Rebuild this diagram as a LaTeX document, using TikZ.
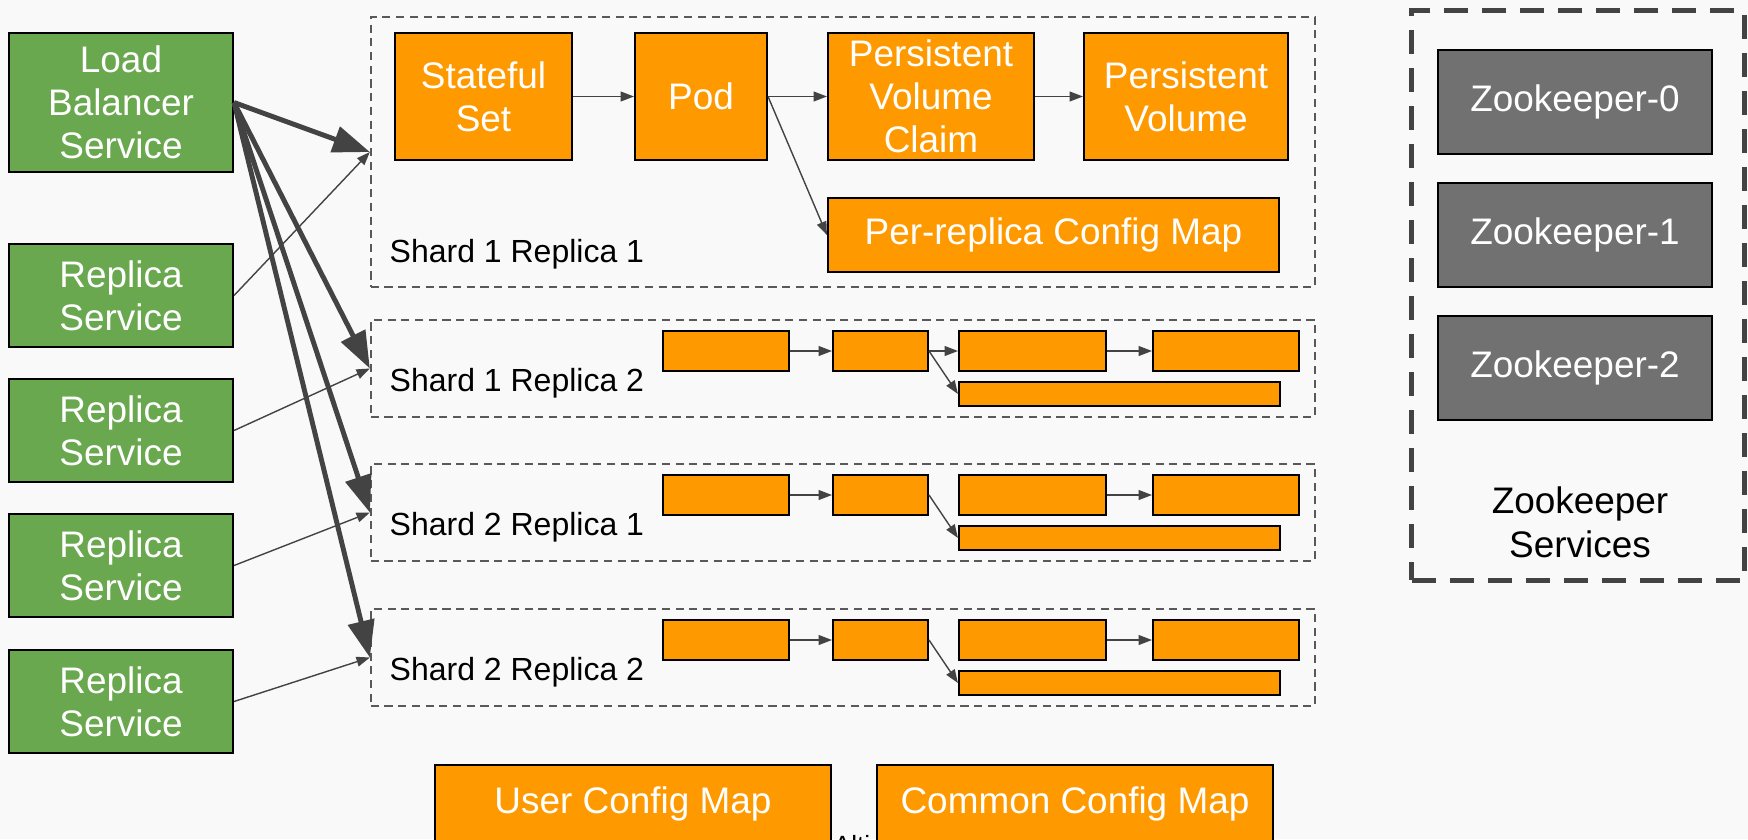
\documentclass[tikz,border=0pt]{standalone}
\usepackage{fontspec}
\setmainfont{Liberation Sans}
\usetikzlibrary{arrows.meta, positioning}
\definecolor{KGreen}{HTML}{6AA84F}
\definecolor{KOrange}{HTML}{FF9900}
\definecolor{KGrey}{HTML}{717171}
\definecolor{KArrow}{HTML}{434343}
\definecolor{KDash}{HTML}{595959}
\definecolor{KBack}{HTML}{F9F9F9}

\begin{document}
\begin{tikzpicture}[x=0.01cm, y=-0.01cm,
    box/.style={draw=black, line width=0.55pt, inner sep=0pt, align=center,
                text=white, font=\fontsize{10.5}{12.3}\selectfont},
    svc/.style={box, fill=KGreen, minimum width=2.24cm},
    res/.style={box, fill=KOrange},
    zk/.style={box, fill=KGrey, minimum width=2.74cm, minimum height=1.04cm},
    shard/.style={draw=KDash, line width=0.5pt, dash pattern=on 2.3pt off 1.6pt,
                  minimum width=9.44cm, inner sep=0pt},
    lbl/.style={anchor=base west, inner sep=0pt, font=\fontsize{9.1}{11}\selectfont},
    lbarrow/.style={-{Triangle[length=10.5pt, width=7.5pt]}, line width=1.4pt, KArrow},
    link/.style={-{Triangle[length=3.8pt, width=2.8pt]}, line width=0.4pt, KArrow}]
  % Background
  \fill[KBack] (0,0) rectangle (1748,839);
  \useasboundingbox (0,0) rectangle (1748,839);

  % Services
  \node[svc, minimum height=1.39cm] (lb) at (121,102.5) {Load\\Balancer\\Service};
  \foreach \i/\y in {1/295.5, 2/430.5, 3/565.5, 4/701.5}
    \node[svc, minimum height=1.03cm] (rs\i) at (121,\y) {Replica\\Service};

  % Shard 1 Replica 1
  \node[shard, minimum height=2.7cm] (s11) at (843,152) {};
  \node[lbl] at (389,262) {Shard 1 Replica 1};
  \node[res, minimum width=1.77cm, minimum height=1.27cm] (sts) at (483.5,96.5) {Stateful\\Set};
  \node[res, minimum width=1.32cm, minimum height=1.27cm] (pod) at (701,96.5) {Pod};
  \node[res, minimum width=2.06cm, minimum height=1.27cm] (pvc) at (931,96.5) {Persistent\\Volume\\Claim};
  \node[res, minimum width=2.04cm, minimum height=1.27cm] (pv) at (1186,96.5) {Persistent\\Volume};
  \node[res, minimum width=4.51cm, minimum height=0.74cm] (prc) at (1053.5,235) {Per-replica Config Map};
  \draw[link] (sts) -- (pod);
  \draw[link] (pod) -- (pvc);
  \draw[link] (pvc) -- (pv);
  \draw[link] (pod.east) -- (prc.west);

  % Other replicas, collapsed
  \foreach \n/\t/\txt in {s12/320/Shard 1 Replica 2, s21/464/Shard 2 Replica 1,
                          s22/609/Shard 2 Replica 2} {
    \node[shard, minimum height=0.97cm] (\n) at (843,\t+48.5) {};
    \node[lbl] at (389,\t+71) {\txt};
    \node[res, minimum width=1.26cm, minimum height=0.4cm] (\n-a) at (726,\t+31) {};
    \node[res, minimum width=0.95cm, minimum height=0.4cm] (\n-b) at (880.5,\t+31) {};
    \node[res, minimum width=1.47cm, minimum height=0.4cm] (\n-c) at (1032.5,\t+31) {};
    \node[res, minimum width=1.46cm, minimum height=0.4cm] (\n-d) at (1226,\t+31) {};
    \node[res, minimum width=3.21cm, minimum height=0.24cm] (\n-e) at (1119.5,\t+74) {};
    \draw[link] (\n-a) -- (\n-b);
    \draw[link] (\n-c) -- (\n-d);
    \draw[link] (\n-b.east) -- (\n-e.west);
  }
  \draw[link] (s12-b) -- (s12-c);

  % Service connections
  \draw[link] (rs1.east) -- (s11.west);
  \draw[link] (rs2.east) -- (s12.west);
  \draw[link] (rs3.east) -- (s21.west);
  \draw[link] (rs4.east) -- (s22.west);
  \foreach \s in {s11, s12, s21, s22}
    \draw[lbarrow] (lb.east) -- (\s.west);

  % Zookeeper
  \node[draw=KArrow, line width=1.4pt, dash pattern=on 6.8pt off 4pt,
        minimum width=3.32cm, minimum height=5.69cm] (zkgroup) at (1578,295.5) {};
  \node[zk] (zk0) at (1575,102) {Zookeeper-0};
  \node[zk] (zk1) at (1575,235) {Zookeeper-1};
  \node[zk] (zk2) at (1575,368) {Zookeeper-2};
  \node[align=center, inner sep=0pt, font=\fontsize{10.5}{12.5}\selectfont] (zklabel)
    at (1580,522) {Zookeeper\\Services};

  % Shared config maps
  \node[res, minimum width=3.96cm, minimum height=0.77cm] (ucm) at (633,803.5) {User Config Map};
  \node[anchor=base west, inner sep=0pt, font=\fontsize{7.5}{9}\selectfont] (foot)
    at (833,854) {Altinity};
  \node[res, minimum width=3.96cm, minimum height=0.77cm] (ccm) at (1075,803.5) {Common Config Map};
\end{tikzpicture}
\end{document}
